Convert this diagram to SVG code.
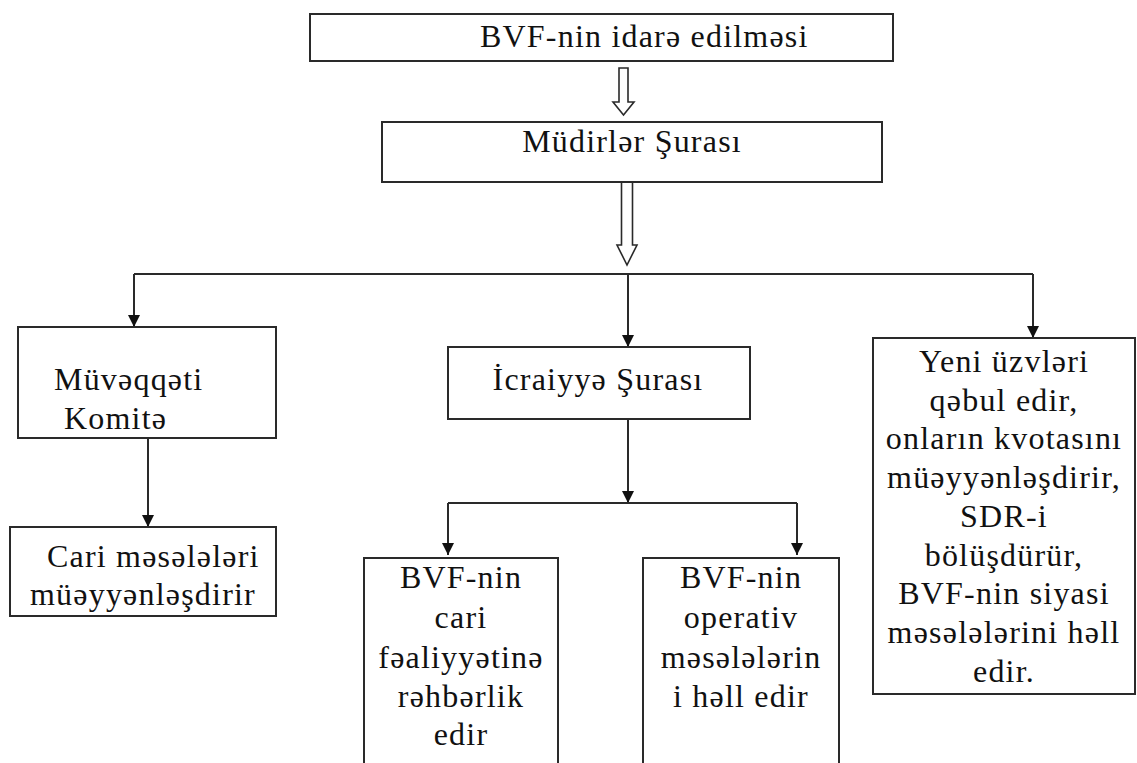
<svg xmlns="http://www.w3.org/2000/svg" width="1137" height="763" viewBox="0 0 1137 763">
  <style>
    .box { fill: #ffffff; stroke: #2a2a2a; stroke-width: 2; }
    .lbl { font-family: 'Liberation Serif', 'Times New Roman', Tinos, 'DejaVu Serif', 'Noto Serif', serif; font-size: 32px; letter-spacing: 1.2px; fill: #111111; }
    .mid { text-anchor: middle; }
    .conn { fill: none; stroke: #2a2a2a; stroke-width: 2; }
    .hollow { fill: #ffffff; stroke: #2a2a2a; stroke-width: 1.6; stroke-linejoin: miter; }
  </style>
  <defs>
    <marker id="arr" viewBox="0 0 12 12" refX="12" refY="6" markerWidth="12" markerHeight="12" markerUnits="userSpaceOnUse" orient="auto">
      <path d="M0,0 L12,6 L0,12 Z" fill="#111111"/>
    </marker>
  </defs>
  <rect width="1137" height="763" fill="#ffffff"/>

  <g id="connectors">
    <polygon class="hollow" points="619,68 628,68 628,102 634,102 623.5,115 613,102 619,102"/>
    <polygon class="hollow" points="621.5,182 632.5,182 632.5,245 637,245 627,265 617,245 621.5,245"/>
    <path class="conn" d="M134,274 L1033,274"/>
    <path class="conn" d="M134,274 L134,327" marker-end="url(#arr)"/>
    <path class="conn" d="M628,274 L628,347" marker-end="url(#arr)"/>
    <path class="conn" d="M1033,274 L1033,338" marker-end="url(#arr)"/>
    <path class="conn" d="M148,438 L148,527" marker-end="url(#arr)"/>
    <path class="conn" d="M628,419 L628,503" marker-end="url(#arr)"/>
    <path class="conn" d="M448,503 L797,503"/>
    <path class="conn" d="M448,503 L448,555" marker-end="url(#arr)"/>
    <path class="conn" d="M797,503 L797,555" marker-end="url(#arr)"/>
  </g>

  <g id="node-top">
    <rect class="box" x="310" y="14" width="583" height="47"/>
    <text class="lbl" font-family="Liberation Serif, serif" x="480" y="47">BVF-nin idarə edilməsi</text>
  </g>

  <g id="node-mudirler">
    <rect class="box" x="382" y="122" width="500" height="60"/>
    <text class="lbl mid" x="632" y="152">Müdirlər Şurası</text>
  </g>

  <g id="node-muveqqeti">
    <rect class="box" x="18" y="327" width="258" height="111"/>
    <text class="lbl" x="54" y="390">Müvəqqəti</text>
    <text class="lbl" x="64" y="429">Komitə</text>
  </g>

  <g id="node-cari">
    <rect class="box" x="10" y="527" width="266" height="89"/>
    <text class="lbl" x="47" y="567">Cari məsələləri</text>
    <text class="lbl" x="30" y="605">müəyyənləşdirir</text>
  </g>

  <g id="node-icraiyye">
    <rect class="box" x="448" y="347" width="302" height="72"/>
    <text class="lbl mid" x="598" y="390">İcraiyyə Şurası</text>
  </g>

  <g id="node-rehberlik">
    <rect class="box" x="364" y="558" width="194" height="230"/>
    <text class="lbl mid" x="461" y="588">BVF-nin</text>
    <text class="lbl mid" x="461" y="628">cari</text>
    <text class="lbl mid" x="461" y="668">fəaliyyətinə</text>
    <text class="lbl mid" x="461" y="707">rəhbərlik</text>
    <text class="lbl mid" x="461" y="745">edir</text>
  </g>

  <g id="node-operativ">
    <rect class="box" x="643" y="558" width="196" height="230"/>
    <text class="lbl mid" x="741" y="588">BVF-nin</text>
    <text class="lbl mid" x="741" y="628">operativ</text>
    <text class="lbl mid" x="741" y="668">məsələlərin</text>
    <text class="lbl mid" x="741" y="707">i həll edir</text>
  </g>

  <g id="node-yeni">
    <rect class="box" x="873" y="338" width="262" height="356"/>
    <text class="lbl mid" x="1004" y="372">Yeni üzvləri</text>
    <text class="lbl mid" x="1004" y="410.7">qəbul edir,</text>
    <text class="lbl mid" x="1004" y="449.4">onların kvotasını</text>
    <text class="lbl mid" x="1004" y="488">müəyyənləşdirir,</text>
    <text class="lbl mid" x="1004" y="526.8">SDR-i</text>
    <text class="lbl mid" x="1004" y="565.5">bölüşdürür,</text>
    <text class="lbl mid" x="1004" y="604">BVF-nin siyasi</text>
    <text class="lbl mid" x="1004" y="643">məsələlərini həll</text>
    <text class="lbl mid" x="1004" y="681.7">edir.</text>
  </g>
</svg>
